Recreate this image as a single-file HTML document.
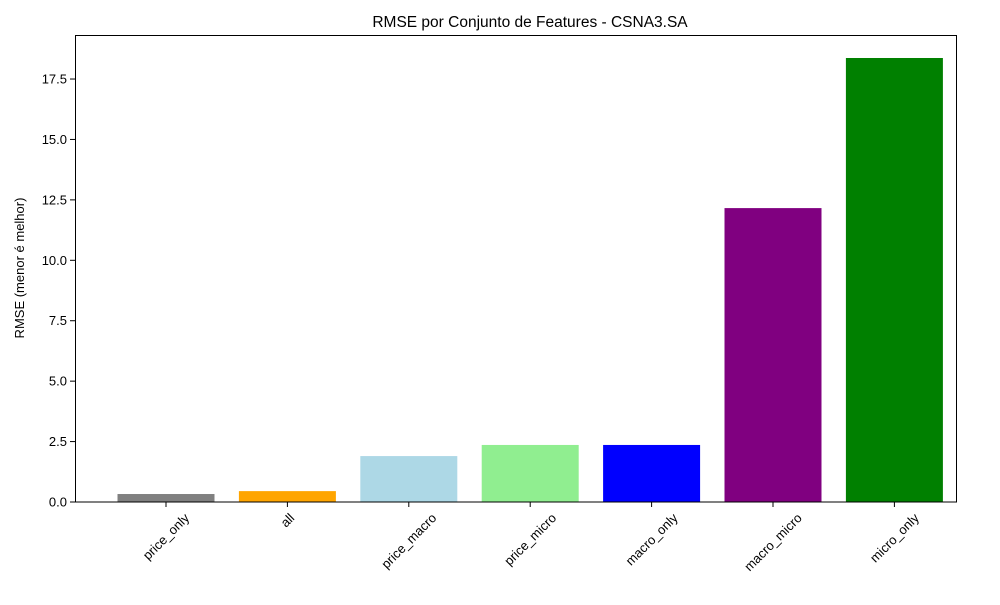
<!DOCTYPE html>
<html><head><meta charset="utf-8"><style>
body{margin:0;background:#fff;}
svg text{font-family:"Liberation Sans","DejaVu Sans",sans-serif;fill:#000;}
</style></head><body>
<svg width="1000" height="600" viewBox="0 0 1000 600">
<text x="530" y="27" font-size="15.5" text-anchor="middle">RMSE por Conjunto de Features - CSNA3.SA</text>
<text transform="translate(24,268) rotate(-90)" font-size="13" text-anchor="middle">RMSE (menor é melhor)</text>
<g id="bars"></g>
<g id="yticks"></g>
<g id="xticks"></g>
<rect x="75.5" y="35.5" width="881" height="466.5" fill="none" stroke="#000" stroke-width="1"/>
</svg>
<script>
const categories=["price_only","all","price_macro","price_micro","macro_only","macro_micro","micro_only"];
const values=[0.33,0.45,1.9,2.36,2.36,12.16,18.37];
const colors=["gray","orange","lightblue","lightgreen","blue","purple","green"];
const yTicks=[0,2.5,5,7.5,10,12.5,15,17.5];
const yTickLabels=["0.0","2.5","5.0","7.5","10.0","12.5","15.0","17.5"];
const NS="http://www.w3.org/2000/svg";
function yScale(v){return 502-v*24.17;}
function xScale(i){return 166+121.4*i;}
const bw=97;
const bars=document.getElementById('bars'),yt=document.getElementById('yticks'),xt=document.getElementById('xticks');
categories.forEach((c,i)=>{
 const r=document.createElementNS(NS,'rect');
 r.setAttribute('x',xScale(i)-bw/2);r.setAttribute('y',yScale(values[i]));
 r.setAttribute('width',bw);r.setAttribute('height',yScale(0)-yScale(values[i]));
 r.setAttribute('fill',colors[i]);
 
 
 bars.appendChild(r);
 const l=document.createElementNS(NS,'line');
 l.setAttribute('x1',xScale(i));l.setAttribute('x2',xScale(i));l.setAttribute('y1',502);l.setAttribute('y2',507);l.setAttribute('stroke','#000');
 
 
 xt.appendChild(l);
 const t=document.createElementNS(NS,'text');
 t.setAttribute('font-size','13');t.setAttribute('text-anchor','middle');
 t.textContent=c;
 
 
 xt.appendChild(t);
 const w=t.getComputedTextLength();
 const yc=511+(w+13)*0.7071/2;
 t.setAttribute('transform','translate('+xScale(i)+','+yc+') rotate(-45) translate(0,4.5)');
});
yTicks.forEach((v,i)=>{
 const l=document.createElementNS(NS,'line');
 l.setAttribute('x1',70);l.setAttribute('x2',75);l.setAttribute('y1',yScale(v));l.setAttribute('y2',yScale(v));l.setAttribute('stroke','#000');
 
 
 yt.appendChild(l);
 const t=document.createElementNS(NS,'text');
 t.setAttribute('x',67);t.setAttribute('y',yScale(v)+4.5);t.setAttribute('font-size','13');t.setAttribute('text-anchor','end');
 t.textContent=yTickLabels[i];
 
 
 yt.appendChild(t);
});
</script>
</body></html>
